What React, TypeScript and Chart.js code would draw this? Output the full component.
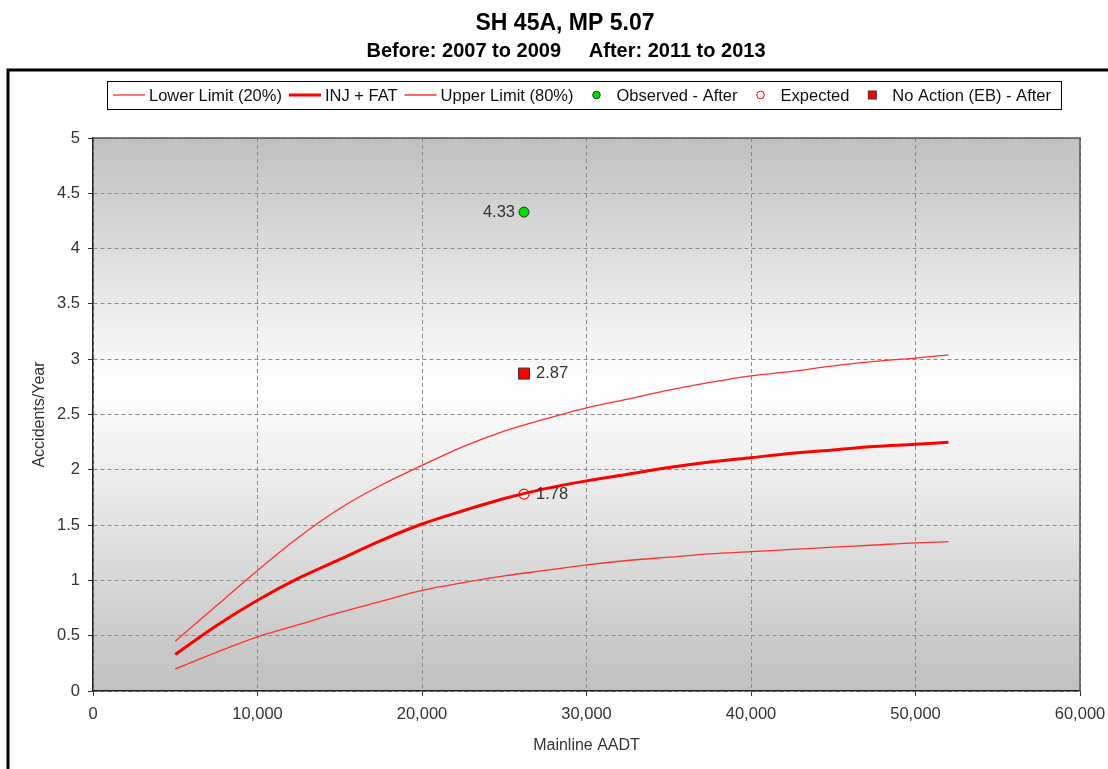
import React, { useEffect, useRef } from 'react';
import { Chart, registerables } from 'chart.js';

Chart.register(...registerables);

// ---------- text ----------
const TITLE = 'SH 45A, MP 5.07';
const SUBTITLE = 'Before: 2007 to 2009     After: 2011 to 2013';
const X_TITLE = 'Mainline AADT';
const Y_TITLE = 'Accidents/Year';

// ---------- data ----------
const aadt = [5000, 7500, 10000, 12500, 15000, 17500, 20000, 22500, 25000, 27500, 30000, 32500, 35000, 37500, 40000, 42500, 45000, 47500, 50000, 52000];
const lowerLimit = [0.2, 0.35, 0.49, 0.6, 0.71, 0.81, 0.91, 0.98, 1.04, 1.09, 1.14, 1.18, 1.21, 1.24, 1.26, 1.28, 1.3, 1.32, 1.34, 1.35];
const injFat = [0.33, 0.59, 0.82, 1.02, 1.19, 1.36, 1.51, 1.63, 1.74, 1.83, 1.9, 1.96, 2.02, 2.07, 2.11, 2.15, 2.18, 2.21, 2.23, 2.25];
const upperLimit = [0.45, 0.77, 1.09, 1.39, 1.65, 1.86, 2.04, 2.21, 2.35, 2.46, 2.56, 2.64, 2.72, 2.79, 2.85, 2.89, 2.94, 2.98, 3.01, 3.04];

const siteAadt = [26200];
const observedAfter = [4.33];
const expectedValue = [1.78];
const noActionEB = [2.87];

const xMin = 0;
const xMax = 60000;
const xStep = 10000;
const yMin = 0;
const yMax = 5;
const yStep = 0.5;

const FONT = '"Liberation Sans", Arial, sans-serif';

const toXY = (xs: number[], ys: number[]) => xs.map((x, i) => ({ x, y: ys[i] }));

const backgroundPlugin = {
  id: 'bgFrame',
  beforeDraw(chart: any) {
    const { ctx, chartArea, width, height } = chart;
    ctx.save();
    ctx.fillStyle = '#ffffff';
    ctx.fillRect(0, 0, width, height);
    // outer frame
    ctx.strokeStyle = '#000000';
    ctx.lineWidth = 3;
    ctx.strokeRect(8, 70, width + 50, height + 50);
    // plot gradient
    const g = ctx.createLinearGradient(0, chartArea.top, 0, chartArea.bottom);
    g.addColorStop(0, '#c0c0c0');
    g.addColorStop(0.45, '#ffffff');
    g.addColorStop(1, '#c0c0c0');
    ctx.fillStyle = g;
    ctx.fillRect(chartArea.left, chartArea.top, chartArea.right - chartArea.left, chartArea.bottom - chartArea.top);
    ctx.restore();
  },
  beforeDatasetsDraw(chart: any) {
    const { ctx, chartArea } = chart;
    ctx.save();
    ctx.strokeStyle = '#555555';
    ctx.lineWidth = 1.5;
    ctx.beginPath();
    ctx.moveTo(chartArea.left, chartArea.top);
    ctx.lineTo(chartArea.right, chartArea.top);
    ctx.lineTo(chartArea.right, chartArea.bottom);
    ctx.stroke();
    ctx.restore();
  },
  afterDraw(chart: any) {
    const { ctx } = chart;
    ctx.save();
    ctx.fillStyle = '#000000';
    ctx.textAlign = 'center';
    ctx.textBaseline = 'alphabetic';
    ctx.font = `bold 23px ${FONT}`;
    ctx.fillText(TITLE, 565, 30);
    ctx.font = `bold 20px ${FONT}`;
    ctx.fillText(SUBTITLE, 566, 57);
    ctx.restore();
  },
};

const valueLabelPlugin = {
  id: 'valueLabels',
  afterDatasetsDraw(chart: any) {
    const { ctx } = chart;
    ctx.save();
    ctx.font = `16.5px ${FONT}`;
    ctx.fillStyle = '#333333';
    ctx.textBaseline = 'middle';
    chart.data.datasets.forEach((ds: any, i: number) => {
      if (!ds.valueLabel) return;
      const meta = chart.getDatasetMeta(i);
      meta.data.forEach((el: any, j: number) => {
        const v = ds.data[j].y;
        const txt = v.toFixed(2);
        if (ds.valueLabel === 'left') {
          ctx.textAlign = 'right';
          ctx.fillText(txt, el.x - 9, el.y);
        } else {
          ctx.textAlign = 'left';
          ctx.fillText(txt, el.x + 12, el.y);
        }
      });
    });
    ctx.restore();
  },
};

const boxLegendPlugin = {
  id: 'boxLegend',
  afterDraw(chart: any) {
    const { ctx } = chart;
    const boxLeft = 107;
    const boxTop = 81;
    const boxH = 28;
    const sample = 32;
    const cy = boxTop + boxH / 2;
    ctx.save();
    ctx.font = `16.5px ${FONT}`;
    const datasets = chart.data.datasets;
    let total = 6;
    datasets.forEach((ds: any, i: number) => {
      total += sample + 4 + ctx.measureText(ds.label).width + (i < datasets.length - 1 ? 7 : 10);
    });
    ctx.fillStyle = '#ffffff';
    ctx.fillRect(boxLeft, boxTop, total, boxH);
    ctx.strokeStyle = '#000000';
    ctx.lineWidth = 1;
    ctx.strokeRect(boxLeft + 0.5, boxTop + 0.5, total, boxH);

    let x = boxLeft + 6;
    datasets.forEach((ds: any) => {
      if (ds.showLine) {
        ctx.strokeStyle = ds.borderColor;
        ctx.lineWidth = ds.borderWidth;
        ctx.beginPath();
        ctx.moveTo(x, cy);
        ctx.lineTo(x + sample, cy);
        ctx.stroke();
      } else {
        const mx = x + sample / 2;
        ctx.fillStyle = ds.pointBackgroundColor;
        ctx.strokeStyle = ds.pointBorderColor;
        ctx.lineWidth = 1;
        if (ds.pointStyle === 'rect') {
          ctx.fillRect(mx - 4, cy - 4, 8, 8);
          ctx.strokeRect(mx - 4, cy - 4, 8, 8);
        } else {
          ctx.beginPath();
          ctx.arc(mx, cy, 3.8, 0, Math.PI * 2);
          ctx.fill();
          ctx.stroke();
        }
      }
      x += sample + 4;
      ctx.fillStyle = '#111111';
      ctx.textAlign = 'left';
      ctx.textBaseline = 'middle';
      ctx.fillText(ds.label, x, cy + 1);
      x += ctx.measureText(ds.label).width + 7;
    });
    ctx.restore();
  },
};

export default function App() {
  const canvasRef = useRef<HTMLCanvasElement | null>(null);

  useEffect(() => {
    const canvas = canvasRef.current;
    if (!canvas) return;
    const chart = new Chart(canvas, {
      type: 'scatter',
      data: {
        datasets: [
          {
            label: 'Lower Limit (20%)',
            data: toXY(aadt, lowerLimit),
            showLine: true,
            borderColor: '#ff3030',
            borderWidth: 1.3,
            pointRadius: 0,
            cubicInterpolationMode: 'monotone',
          },
          {
            label: 'INJ + FAT',
            data: toXY(aadt, injFat),
            showLine: true,
            borderColor: '#ff0000',
            borderWidth: 3,
            pointRadius: 0,
            cubicInterpolationMode: 'monotone',
          },
          {
            label: 'Upper Limit (80%)',
            data: toXY(aadt, upperLimit),
            showLine: true,
            borderColor: '#ff3030',
            borderWidth: 1.3,
            pointRadius: 0,
            cubicInterpolationMode: 'monotone',
          },
          {
            label: 'Observed - After',
            data: toXY(siteAadt, observedAfter),
            showLine: false,
            pointStyle: 'circle',
            pointRadius: 5,
            pointBackgroundColor: '#00e000',
            pointBorderColor: '#333333',
            pointBorderWidth: 1,
            valueLabel: 'left',
          },
          {
            label: 'Expected',
            data: toXY(siteAadt, expectedValue),
            showLine: false,
            pointStyle: 'circle',
            pointRadius: 5,
            pointBackgroundColor: '#ffffff',
            pointBorderColor: '#ff0000',
            pointBorderWidth: 1.2,
            valueLabel: 'right',
          },
          {
            label: 'No Action (EB) - After',
            data: toXY(siteAadt, noActionEB),
            showLine: false,
            pointStyle: 'rect',
            pointRadius: 7.8,
            pointBackgroundColor: '#ff0000',
            pointBorderColor: '#333333',
            pointBorderWidth: 1,
            valueLabel: 'right',
          },
        ] as any,
      },
      options: {
        responsive: false,
        animation: false,
        devicePixelRatio: 1,
        layout: { padding: { top: 138, left: 0, right: 28, bottom: 0 } },
        plugins: {
          legend: { display: false },
          title: { display: false },
          tooltip: { enabled: false },
        },
        scales: {
          x: {
            type: 'linear',
            min: xMin,
            max: xMax,
            afterFit: (s: any) => { s.height = 78; s.paddingLeft = 0; s.paddingRight = 0; },
            ticks: {
              stepSize: xStep,
              color: '#333333',
              padding: 9,
              font: { family: FONT, size: 16.5 },
              maxRotation: 0,
            },
            grid: {
              color: '#8c8c8c',
              tickColor: '#333333',
              tickLength: 5,
              tickBorderDash: [],
              lineWidth: 1,
            },
            border: { display: true, color: '#222222', width: 1.5, dash: [4, 3] },
            title: {
              display: true,
              text: X_TITLE,
              color: '#333333',
              font: { family: FONT, size: 16 },
              padding: { top: 0, bottom: 14 },
            },
          },
          y: {
            type: 'linear',
            min: yMin,
            max: yMax,
            afterFit: (s: any) => { s.width = 93; s.paddingTop = 0; s.paddingBottom = 0; },
            ticks: {
              stepSize: yStep,
              color: '#333333',
              padding: 8,
              font: { family: FONT, size: 16.5 },
              callback: (v: any) => String(Number(v)),
            },
            grid: {
              color: '#8c8c8c',
              tickColor: '#333333',
              tickLength: 5,
              tickBorderDash: [],
              lineWidth: 1,
            },
            border: { display: true, color: '#222222', width: 1.5, dash: [4, 3] },
            title: {
              display: true,
              text: Y_TITLE,
              color: '#333333',
              font: { family: FONT, size: 16 },
              padding: { top: 30, bottom: 0 },
            },
          },
        },
      } as any,
      plugins: [backgroundPlugin, valueLabelPlugin, boxLegendPlugin],
    });
    return () => chart.destroy();
  }, []);

  return (
    <div style={{ position: 'fixed', left: 0, top: 0, width: 1108, height: 769, background: '#ffffff', overflow: 'hidden' }}>
      <canvas ref={canvasRef} width={1108} height={769} style={{ display: 'block', width: 1108, height: 769 }} />
    </div>
  );
}
